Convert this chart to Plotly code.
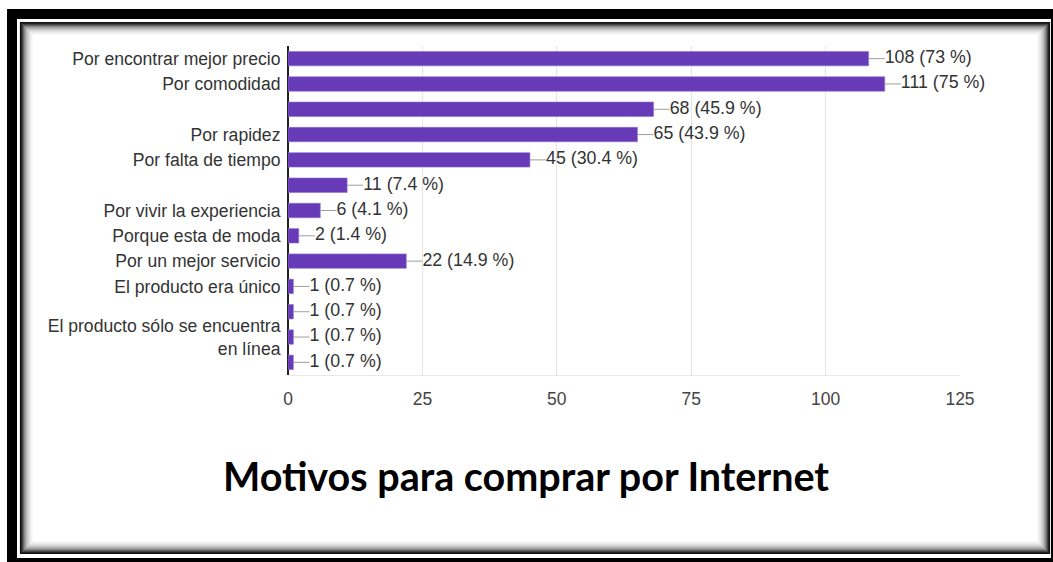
import plotly.graph_objects as go

# ---- data ----
categories = [
    "Por encontrar mejor precio",
    "Por comodidad",
    "",
    "Por rapidez",
    "Por falta de tiempo",
    "",
    "Por vivir la experiencia",
    "Porque esta de moda",
    "Por un mejor servicio",
    "El producto era único",
    "",
    "El producto sólo se encuentra<br>en línea",
    "",
]
counts = [108, 111, 68, 65, 45, 11, 6, 2, 22, 1, 1, 1, 1]
percents = ["73", "75", "45.9", "43.9", "30.4", "7.4", "4.1", "1.4", "14.9", "0.7", "0.7", "0.7", "0.7"]
x_ticks = [0, 25, 50, 75, 100, 125]
title_text = "Motivos para comprar por Internet"

W, H = 1053, 562
PURPLE = "#673ab7"
FONT = "Liberation Sans, Arial, sans-serif"

pos = list(range(len(categories)))
labels = [f"{c} ({p} %)" for c, p in zip(counts, percents)]
LEAD = 3.0  # leader length in data units

fig = go.Figure()
fig.add_trace(go.Bar(
    x=counts, y=pos, orientation="h", width=0.57,
    marker=dict(color=PURPLE, line=dict(color="#8e6fcf", width=0.6)),
    hoverinfo="skip",
))
lx, ly = [], []
for v, i in zip(counts, pos):
    lx += [v, v + LEAD, None]
    ly += [i, i, None]
fig.add_trace(go.Scatter(
    x=lx, y=ly, mode="lines", line=dict(color="#9e9e9e", width=1),
    hoverinfo="skip", cliponaxis=False,
))
fig.add_trace(go.Scatter(
    x=[v + LEAD for v in counts], y=pos, mode="text", text=labels,
    textposition="middle right",
    textfont=dict(family=FONT, size=17.8, color="#333333"),
    hoverinfo="skip", cliponaxis=False,
))

# ---- frame decoration ----
def px(x):
    return x / W

def py(y):
    return 1 - y / H

shapes = [
    dict(type="rect", xref="paper", yref="paper", x0=px(7), y0=py(9), x1=px(1070), y1=py(580),
         fillcolor="black", line=dict(width=0), layer="below"),
    dict(type="rect", xref="paper", yref="paper", x0=px(17), y0=py(19), x1=px(1051), y1=py(558),
         fillcolor="white", line=dict(width=0), layer="below"),
]
grad = ["#111111", "#222222", "#444444", "#666666", "#888888", "#a0a0a0", "#b5b5b5",
        "#c6c6c6", "#d4d4d4", "#e0e0e0", "#eaeaea", "#f2f2f2", "#f8f8f8"]
for k, col in enumerate(grad):
    shapes.append(dict(type="rect", xref="paper", yref="paper",
                       x0=px(20.5 + k), y0=py(22.5 + k), x1=px(1049.5 - k), y1=py(553.5 - k),
                       line=dict(color=col, width=1.2), fillcolor="rgba(0,0,0,0)", layer="below"))

fig.update_layout(
    width=W, height=H, autosize=False,
    margin=dict(l=0, r=0, t=0, b=0),
    paper_bgcolor="white", plot_bgcolor="rgba(0,0,0,0)",
    showlegend=False, bargap=0.43,
    shapes=shapes,
    title=dict(text=f"<b>{title_text}</b>", x=px(526), xanchor="center", xref="paper",
               y=py(477), yanchor="middle", yref="paper",
               font=dict(family="Lato, Open Sans, sans-serif", size=39.5, color="black")),
    xaxis=dict(domain=[px(288), px(960)], range=[0, 125], tickvals=x_ticks,
               showgrid=True, gridcolor="#e4e4e4", gridwidth=1,
               zeroline=True, zerolinecolor="#222222", zerolinewidth=1.5,
               showline=True, linecolor="#e8e8e8", linewidth=1,
               ticks="outside", ticklen=8, tickcolor="rgba(0,0,0,0)",
               tickfont=dict(family=FONT, size=17.5, color="#444444"),
               automargin=False, fixedrange=True),
    yaxis=dict(domain=[py(375), py(46)], range=[len(categories) - 0.5, -0.5],
               tickvals=pos, ticktext=categories, showgrid=False, zeroline=False,
               ticks="outside", ticklen=3, tickcolor="rgba(0,0,0,0)",
               tickfont=dict(family=FONT, size=17.6, color="#333333"),
               automargin=False, fixedrange=True),
)

fig.write_html("out.html")
